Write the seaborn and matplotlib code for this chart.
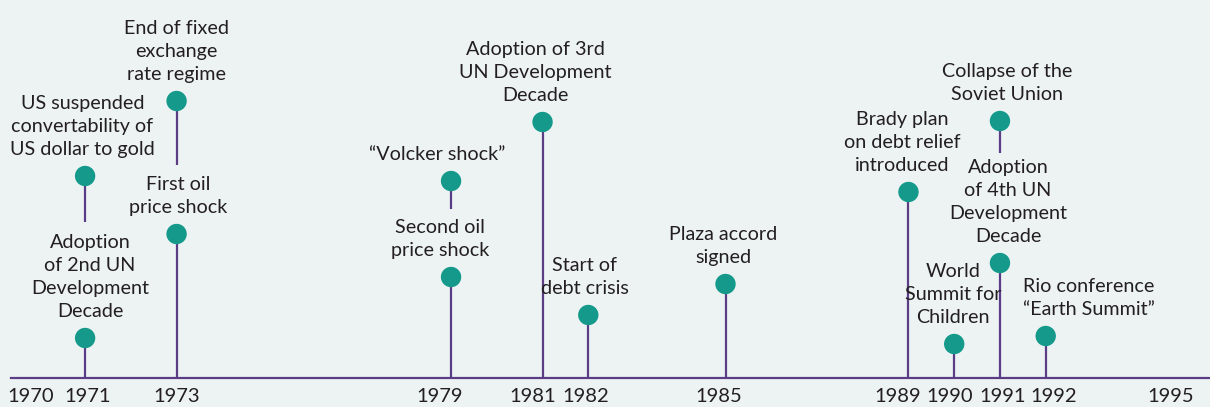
import matplotlib
matplotlib.use("Agg")
import matplotlib.pyplot as plt
import matplotlib.transforms as mtransforms
import seaborn as sns

# ─── Data ─────────────────────────────────────────────────────────────────────
EVENT_YEARS = [1971, 1971, 1973, 1973, 1979, 1979, 1981,
               1982, 1985, 1989, 1990, 1991, 1991, 1992]
# height of each marker above the timeline (arbitrary units, stacked layout)
EVENT_LEVELS = [40, 202, 144, 277, 101, 197, 256, 63, 94, 186, 34, 115, 257, 42]
# where each stem starts (0 = on the timeline, else just above a lower label)
STEM_BASES = [0, 156, 0, 213, 0, 169, 0, 0, 0, 0, 0, 0, 225, 0]
EVENT_LABELS = [
    "Adoption\nof 2nd UN\nDevelopment\nDecade",
    "US suspended\nconvertability of\nUS dollar to gold",
    "First oil\nprice shock",
    "End of fixed\nexchange\nrate regime",
    "Second oil\nprice shock",
    "\u201cVolcker shock\u201d",
    "Adoption of 3rd\nUN Development\nDecade",
    "Start of\ndebt crisis",
    "Plaza accord\nsigned",
    "Brady plan\non debt relief\nintroduced",
    "World\nSummit for\nChildren",
    "Adoption\nof 4th UN\nDevelopment\nDecade",
    "Collapse of the\nSoviet Union",
    "Rio conference\n\u201cEarth Summit\u201d",
]
YEAR_TICKS = [1970, 1971, 1973, 1979, 1981, 1982, 1985,
              1989, 1990, 1991, 1992, 1995]

# ─── Style ────────────────────────────────────────────────────────────────────
BG = "#edf3f3"
TEAL = "#14998a"
PURPLE = "#5b3d86"
TEXT = "#231f20"
# horizontal nudges (points) so crowded labels sit as in the original layout
LABEL_NUDGE = [3.5, -2, 1, 0, -8, -10, -5.4, -2.4, -1.8, -4.6, -1, 5.8, 5, 31]
TICK_NUDGE = [-6, 1.5, 0, -8, -7, -2, -5, -8, -3, 2, 6, -9]

sns.set_theme(style="white")
plt.rcParams["font.family"] = ["Lato", "DejaVu Sans"]

fig = plt.figure(figsize=(12.1, 4.07), dpi=100, facecolor=BG)
ax = fig.add_axes([11 / 1210, 29 / 407, 1198 / 1210, 378 / 407])
ax.set_facecolor(BG)

ax.set_xlim(1969.38, 1995.57)
ax.set_ylim(0, 378)

# stems
ax.vlines(EVENT_YEARS, STEM_BASES, EVENT_LEVELS, color=PURPLE, lw=1.6, zorder=2)

# markers
sns.scatterplot(x=EVENT_YEARS, y=EVENT_LEVELS, ax=ax, s=215, color=TEAL,
                edgecolor="none", linewidth=0, zorder=3, clip_on=False)

# labels
for i, (yr, lvl, lab) in enumerate(zip(EVENT_YEARS, EVENT_LEVELS, EVENT_LABELS)):
    ax.annotate(lab, (yr, lvl), xytext=(LABEL_NUDGE[i], 13),
                textcoords="offset points", ha="center", va="bottom",
                fontsize=14.2, color=TEXT, linespacing=1.42)

# timeline axis
for side in ["top", "left", "right"]:
    ax.spines[side].set_visible(False)
ax.spines["bottom"].set_color(PURPLE)
ax.spines["bottom"].set_linewidth(1.6)
ax.set_yticks([])
ax.set_xticks(YEAR_TICKS)
ax.set_xticklabels([str(y) for y in YEAR_TICKS])
ax.tick_params(axis="x", which="major", length=0, pad=7, labelsize=14.5,
               labelcolor=TEXT)
ax.set_xticks(list(ax.get_xlim()), minor=True)
ax.tick_params(axis="x", which="minor", length=8, width=1.6, color=PURPLE,
               direction="inout")

for lbl, dx in zip(ax.get_xticklabels(), TICK_NUDGE):
    shift = mtransforms.ScaledTranslation(dx / 72, 0, fig.dpi_scale_trans)
    lbl.set_transform(lbl.get_transform() + shift)

fig.savefig("out.png", dpi=100, facecolor=BG)
